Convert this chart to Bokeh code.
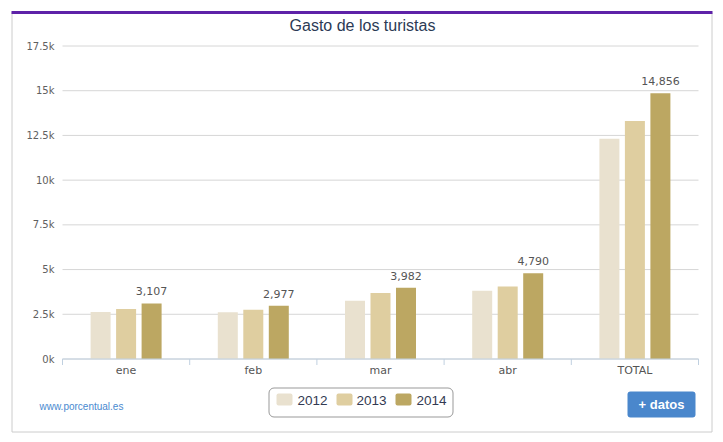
from bokeh.plotting import figure
from bokeh.models import ColumnDataSource, Range1d, BoxAnnotation, Label
from bokeh.transform import dodge
from bokeh.core.properties import value
from bokeh.embed import file_html
from bokeh.resources import INLINE

# ---- data ----
categories = ["ene", "feb", "mar", "abr", "TOTAL"]
y2012 = [2630, 2620, 3260, 3810, 12320]
y2013 = [2800, 2760, 3690, 4050, 13300]
y2014 = [3107, 2977, 3982, 4790, 14856]
series_names = ["2012", "2013", "2014"]
y_ticks = [0, 2500, 5000, 7500, 10000, 12500, 15000, 17500]
y_tick_labels = ["0k", "2.5k", "5k", "7.5k", "10k", "12.5k", "15k", "17.5k"]

colors = ["#e9e1cf", "#dfcea0", "#bca762"]

W, H = 723, 442
FL, FR, FT, FB = 62, 698, 45.5, 358.5   # plot-area edges in pixels
YMAX = 17500
N = len(categories)
CW = (FR - FL) / N          # pixels per category
U = YMAX / (FB - FT)        # data units per pixel (y)


def xd(px):
    return (px - FL) / CW


def yd(py):
    return (FB - py) * U


centers = [i + 0.5 for i in range(N)]
src = ColumnDataSource(dict(xc=centers, cat=categories, y2012=y2012, y2013=y2013, y2014=y2014,
                            lbl=[f"{v:,}" for v in y2014]))

p = figure(width=W, height=H, x_range=Range1d(xd(0), xd(W)), y_range=Range1d(yd(H), yd(0)),
           output_backend="svg", toolbar_location=None,
           x_axis_location=None, y_axis_location=None, min_border=0)
p.outline_line_color = None
p.background_fill_color = "white"
p.border_fill_color = "white"
p.xgrid.visible = False
p.ygrid.visible = False
p.grid.grid_line_color = None

FONT_AX = value("DejaVu Sans")

# grid lines
p.segment(x0=[0] * len(y_ticks), x1=[N] * len(y_ticks), y0=y_ticks, y1=y_ticks,
          line_color="#d6d6d6", line_width=1)

# y-axis labels
p.text(x=[xd(54)] * len(y_ticks), y=y_ticks, text=y_tick_labels, text_align="right",
       text_baseline="middle", text_font=FONT_AX, text_font_size="10px", text_color="#606060")

# bars
bw = 20 / CW
off = 25.5 / CW
for key, dx, c in zip(["y2012", "y2013", "y2014"], [-off, 0, off], colors):
    p.vbar(x=dodge("xc", dx), top=key, width=bw, source=src,
           fill_color=c, line_color=None)

# data labels for 2014
p.text(x=dodge("xc", off), y="y2014", text="lbl", source=src,
       text_align="center", text_baseline="middle", y_offset=-12,
       text_font=FONT_AX, text_font_size="11px", text_color="#555555")

# x axis: line, boundary ticks, category labels
bounds = list(range(N + 1))
p.segment(x0=[0], x1=[N], y0=[0], y1=[0], line_color="#c0d0e0", line_width=1)
p.segment(x0=bounds, x1=bounds, y0=[0] * len(bounds), y1=[-6 * U] * len(bounds),
          line_color="#c0d0e0", line_width=1)
p.text(x="xc", y=0, text="cat", source=src, text_align="center", text_baseline="top",
       y_offset=5, text_font=FONT_AX, text_font_size="11px", text_color="#555555")

# outer frame
p.add_layout(BoxAnnotation(left=xd(11.5), right=xd(711.5), top=yd(12), bottom=yd(431.5),
                           fill_alpha=0, line_color="#cccccc", line_alpha=1, line_width=1))
p.add_layout(BoxAnnotation(left=xd(11), right=xd(712), top=yd(10.5), bottom=yd(13.5),
                           fill_color="#5e22a8", fill_alpha=1, line_alpha=0))

# title
p.add_layout(Label(x=xd(362), y=yd(25), text="Gasto de los turistas", text_align="center",
                   text_baseline="middle", text_font="Liberation Sans",
                   text_font_size="16px", text_color="#2b3a55"))

# legend
p.add_layout(BoxAnnotation(left=xd(268.5), right=xd(452.5), top=yd(387.5), bottom=yd(416.5),
                           fill_alpha=0, line_color="#999999", line_alpha=1, line_width=1,
                           border_radius=5))
sw_x = [276, 336, 395]
tx_x = [297, 356, 416]
for sx, tx, c, name in zip(sw_x, tx_x, colors, series_names):
    p.add_layout(BoxAnnotation(left=xd(sx), right=xd(sx + 16), top=yd(393), bottom=yd(405),
                               fill_color=c, fill_alpha=1, line_alpha=0, border_radius=2))
    p.add_layout(Label(x=xd(tx), y=yd(400), text=name, text_align="left",
                       text_baseline="middle", text_font="Liberation Sans",
                       text_font_size="13.5px", text_color="#333a52"))

# footer
p.add_layout(Label(x=xd(39), y=yd(405.5), text="www.porcentual.es", text_align="left",
                   text_baseline="middle", text_font="Liberation Sans",
                   text_font_size="10px", text_color="#4a8ad0"))
p.add_layout(BoxAnnotation(left=xd(627), right=xd(695), top=yd(391), bottom=yd(417),
                           fill_color="#4a87cc", fill_alpha=1, line_alpha=0, border_radius=3))
p.add_layout(Label(x=xd(661), y=yd(404), text="+ datos", text_align="center",
                   text_baseline="middle", text_font="Liberation Sans", text_font_style="bold",
                   text_font_size="13px", text_color="white"))

open("out.html", "w").write(file_html(p, INLINE))
